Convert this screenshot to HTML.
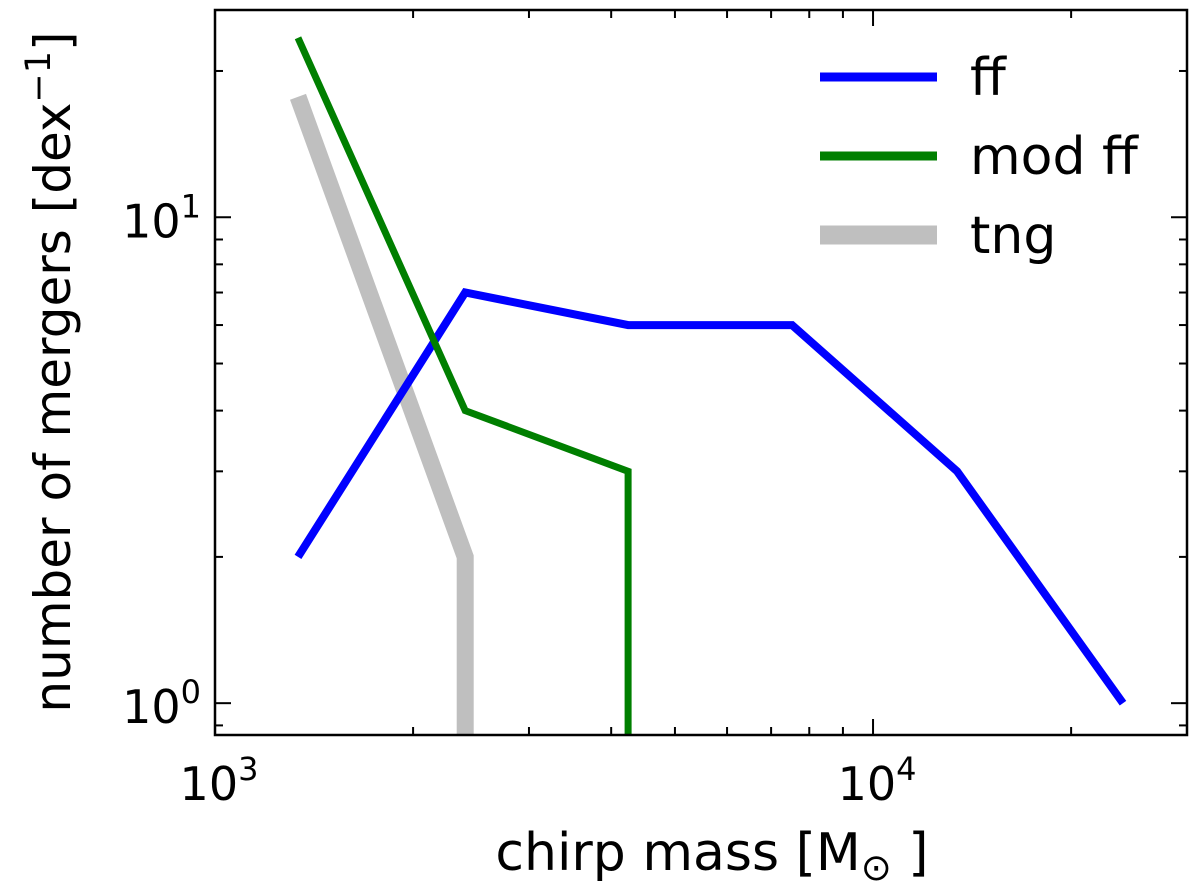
<!DOCTYPE html>
<html><head><meta charset="utf-8"><style>
body{margin:0;background:#fff;}
svg{display:block;font-family:"DejaVu Sans","Liberation Sans",sans-serif;}
</style></head><body>
<svg id="chart" width="1200" height="892"></svg>
<script>
const xMasses=[1337,2400,4244,7534,13420,23980];
const ffValues=[2,7,6,6,3,1];
const modXMasses=[1337,2400,4244,4244];
const modValues=[23.4,4,3,0.5];
const tngXMasses=[1337,2400,2400];
const tngValues=[17.7,2,0.5];
const xTickLabels=["3","4"];
const yTickLabels=["0","1"];
const legendLabels=["ff","mod ff","tng"];

const NS="http://www.w3.org/2000/svg";
const svg=document.getElementById('chart');
const L=215,R=1187,T=10,B=735;
const xMin=Math.log10(1000),xMax=Math.log10(30000);
const yMin=Math.log10(0.86),yMax=Math.log10(26.7);
const X=v=>L+(Math.log10(v)-xMin)/(xMax-xMin)*(R-L);
const Y=v=>B-(Math.log10(v)-yMin)/(yMax-yMin)*(B-T);
function mk(tag,attrs,parent){const e=document.createElementNS(NS,tag);for(const k in attrs)e.setAttribute(k,attrs[k]);(parent||svg).appendChild(e);return e;}

const defs=mk('defs',{});
const cp=mk('clipPath',{id:'clip'},defs);
mk('rect',{x:L,y:T,width:R-L,height:B-T},cp);
const g=mk('g',{'clip-path':'url(#clip)'});



function line(xs,ys,color,w,name){
  const p=xs.map((x,i)=>X(x).toFixed(1)+','+Y(ys[i]).toFixed(1)).join(' ');
  const e=mk('polyline',{points:p,fill:'none',stroke:color,'stroke-width':w,'stroke-linejoin':'miter'},g);
  
  
}
line(tngXMasses,tngValues,'#bfbfbf',17,'tng-line');
line(xMasses,ffValues,'#0000ff',8,'ff-line');
line(modXMasses,modValues,'#007f00',7,'mod-ff-line');

const tg=mk('g',{stroke:'#000','stroke-width':2});


for(let d=3;d<=4;d++)for(let m=1;m<=9;m++){
  const v=m*Math.pow(10,d);if(v<1000||v>30000)continue;
  const x=X(v),len=m===1?16:8;
  mk('line',{x1:x,y1:B,x2:x,y2:B-len},tg);
  mk('line',{x1:x,y1:T,x2:x,y2:T+len},tg);
}
for(let d=-1;d<=1;d++)for(let m=1;m<=9;m++){
  const v=m*Math.pow(10,d);if(v<0.86||v>26.7)continue;
  const y=Y(v),len=m===1?16:8;
  mk('line',{x1:L,y1:y,x2:L+len,y2:y},tg);
  mk('line',{x1:R,y1:y,x2:R-len,y2:y},tg);
}
mk('rect',{x:L,y:T,width:R-L,height:B-T,fill:'none',stroke:'#000','stroke-width':2.5});

function pow(x,y,exp,anchor,name){
  const t=mk('text',{x:x,y:y,'font-size':46,'text-anchor':anchor});
  
  
  t.innerHTML='10<tspan dy="-20" font-size="32">'+exp+'</tspan>';
}
[1000,10000].forEach((v,i)=>pow(X(v)+4,800,xTickLabels[i],'middle','x-tick-label'));
[1,10].forEach((v,i)=>pow(L-14,Y(v)+20,yTickLabels[i],'end','y-tick-label'));

const xt=mk('text',{x:712,y:870,'font-size':52,'text-anchor':'middle'});


xt.innerHTML='chirp mass [M<tspan dy="10" font-size="37">⊙</tspan><tspan dy="-10"> ]</tspan>';
const yt=mk('text',{x:0,y:0,'font-size':50,'text-anchor':'middle',transform:'translate(70,372) rotate(-90)'});


yt.innerHTML='number of mergers [dex<tspan dy="-20" font-size="35">−1</tspan><tspan dy="20">]</tspan>';

const lc=['#0000ff','#007f00','#bfbfbf'],lw=[9,9,19];
const ly=[77,156,235];
legendLabels.forEach((lab,i)=>{
  const y=ly[i];
  const e=mk('line',{x1:820,y1:y,x2:937,y2:y,stroke:lc[i],'stroke-width':lw[i]});
  
  
  const t=mk('text',{x:970,y:y+18,'font-size':52});
  
  
  t.textContent=lab;
});
</script>
</body></html>
